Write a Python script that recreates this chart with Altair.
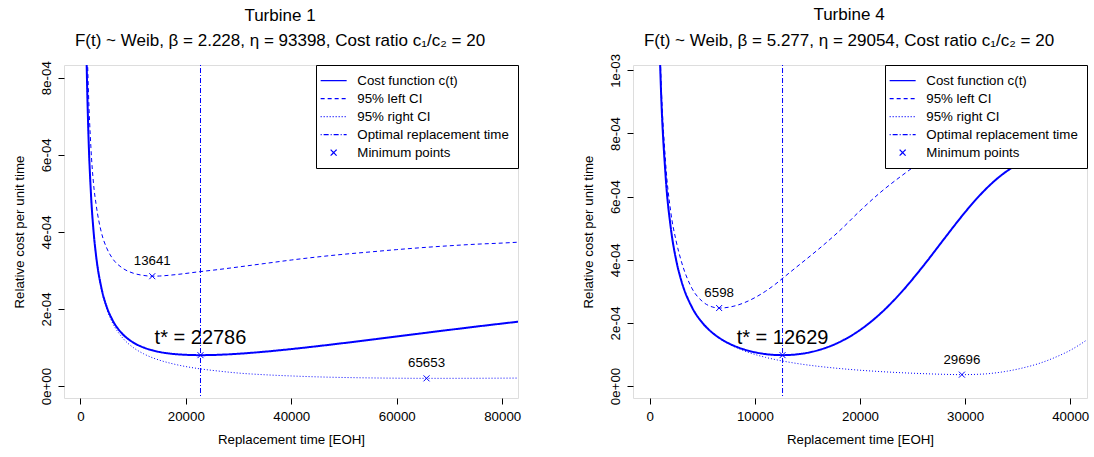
import altair as alt
import pandas as pd

FONT = "Liberation Sans"
BLUE = "#0000ff"

SERIES = ["Cost function c(t)", "95% left CI", "95% right CI",
          "Optimal replacement time", "Minimum points"]

# ---------------- Turbine 1 ----------------
title1 = ["Turbine 1", "F(t) ~ Weib, \u03b2 = 2.228, \u03b7 = 93398, Cost ratio c\u2081/c\u2082 = 20"]
t1 = [1000, 1200, 1500, 2000, 2500, 3000, 4000, 5000, 6000, 8000, 10000, 12000, 13641,
      15000, 18000, 22786, 26000, 30000, 35000, 40000, 45000, 50000, 55000, 60000,
      65653, 70000, 75000, 80000, 84000]
cost1 = [1.0008e-3, 8.343e-4, 6.679e-4, 5.018e-4, 4.024e-4, 3.364e-4, 2.543e-4, 2.057e-4,
         1.738e-4, 1.351e-4, 1.133e-4, 9.995e-5, 9.274e-5, 8.849e-5, 8.281e-5, 8.017e-5,
         8.101e-5, 8.381e-5, 8.921e-5, 9.595e-5, 1.0351e-4, 1.1159e-4, 1.2004e-4, 1.2864e-4,
         1.3837e-4, 1.4577e-4, 1.5415e-4, 1.622e-4, 1.6856e-4]
left1 = [1.10e-3, 9.4e-4, 7.8e-4, 6.2e-4, 5.25e-4, 4.7e-4, 3.98e-4, 3.58e-4, 3.33e-4,
         3.06e-4, 2.93e-4, 2.87e-4, 2.85e-4, 2.855e-4, 2.89e-4, 2.97e-4, 3.02e-4, 3.09e-4,
         3.18e-4, 3.27e-4, 3.35e-4, 3.42e-4, 3.48e-4, 3.54e-4, 3.60e-4, 3.64e-4, 3.68e-4,
         3.71e-4, 3.74e-4]
right1 = [1.0e-3, 8.33e-4, 6.67e-4, 5.0e-4, 4.0e-4, 3.33e-4, 2.5e-4, 2.0e-4, 1.668e-4,
          1.252e-4, 1.003e-4, 8.37e-5, 7.37e-5, 6.72e-5, 5.62e-5, 4.45e-5, 3.92e-5, 3.37e-5,
          2.93e-5, 2.62e-5, 2.38e-5, 2.22e-5, 2.11e-5, 2.04e-5, 2.0e-5, 2.005e-5, 2.02e-5,
          2.05e-5, 2.08e-5]
min_t1 = [13641, 22786, 65653]
min_v1 = [2.85e-4, 8.017e-5, 2.0e-5]
min_lab1 = ["13641", "t* = 22786", "65653"]
tstar1 = 22786
xdom1 = [-3100, 83000]
ydom1 = [-3.1e-5, 8.33e-4]
xticks1 = [0, 20000, 40000, 60000, 80000]
yticks1 = [0, 2e-4, 4e-4, 6e-4, 8e-4]

# ---------------- Turbine 4 ----------------
title2 = ["Turbine 4", "F(t) ~ Weib, \u03b2 = 5.277, \u03b7 = 29054, Cost ratio c\u2081/c\u2082 = 20"]
t2 = [800, 1000, 1500, 2000, 2500, 3000, 4000, 5000, 6000, 6598, 7000, 8000, 9000, 10000,
      11000, 12000, 12629, 14000, 16000, 18000, 20000, 22000, 24000, 26000, 28000, 29696,
      30000, 31000, 32000, 33000, 34000, 35000, 36000, 37000, 38000, 39000, 40000, 41000, 42000]
cost2 = [1.25e-3, 1.0e-3, 6.667e-4, 5.0e-4, 4.0e-4, 3.334e-4, 2.501e-4, 2.0035e-4, 1.6744e-4,
         1.5273e-4, 1.4435e-4, 1.2765e-4, 1.155e-4, 1.0687e-4, 1.0123e-4, 9.83e-5, 9.78e-5,
         1.0025e-4, 1.1318e-4, 1.3838e-4, 1.7742e-4, 2.3125e-4, 2.9951e-4, 3.7953e-4,
         4.659e-4, 5.383e-4, 5.5066e-4, 5.8964e-4, 6.2487e-4, 6.5565e-4, 6.8132e-4, 7.019e-4,
         7.1759e-4, 7.2888e-4, 7.3657e-4, 7.4145e-4, 7.4437e-4, 7.4597e-4, 7.4677e-4]
left2 = [1.3e-3, 1.04e-3, 7.1e-4, 5.5e-4, 4.6e-4, 3.95e-4, 3.1e-4, 2.68e-4, 2.5e-4, 2.47e-4,
         2.475e-4, 2.53e-4, 2.64e-4, 2.8e-4, 3.0e-4, 3.24e-4, 3.41e-4, 3.78e-4, 4.32e-4,
         4.9e-4, 5.55e-4, 6.15e-4, 6.67e-4, 7.15e-4, 7.6e-4, 7.9e-4, 7.95e-4, 8.1e-4, 8.25e-4,
         8.4e-4, 8.52e-4, 8.65e-4, 8.75e-4, 8.85e-4, 8.93e-4, 9.0e-4, 9.05e-4, 9.1e-4, 9.15e-4]
right2 = [1.25e-3, 1.0e-3, 6.667e-4, 5.0e-4, 4.0e-4, 3.333e-4, 2.5e-4, 2.0e-4, 1.667e-4,
          1.516e-4, 1.429e-4, 1.25e-4, 1.111e-4, 1.0e-4, 9.09e-5, 8.33e-5, 7.92e-5, 7.14e-5,
          6.25e-5, 5.56e-5, 5.0e-5, 4.56e-5, 4.2e-5, 3.92e-5, 3.7e-5, 3.6e-5, 3.605e-5,
          3.68e-5, 3.85e-5, 4.2e-5, 4.7e-5, 5.35e-5, 6.15e-5, 7.1e-5, 8.3e-5, 9.7e-5,
          1.13e-4, 1.33e-4, 1.56e-4]
min_t2 = [6598, 12629, 29696]
min_v2 = [2.47e-4, 9.78e-5, 3.6e-5]
min_lab2 = ["6598", "t* = 12629", "29696"]
tstar2 = 12629
xdom2 = [-1600, 41600]
ydom2 = [-3.8e-5, 1.017e-3]
xticks2 = [0, 10000, 20000, 30000, 40000]
yticks2 = [0, 2e-4, 4e-4, 6e-4, 8e-4, 1e-3]

LINE_SHAPE = "M-2.6,0L2.6,0"
CROSS_SHAPE = "M-0.6,-0.6L0.6,0.6M-0.6,0.6L0.6,-0.6"
DASHES = [[1, 0], [4, 3], [1, 2], [1, 2, 5, 2], [1, 0]]


def make_legend():
    return alt.Legend(title=None, orient="top-right", offset=0, fillColor="white",
                      strokeColor="black", padding=9, labelFont=FONT, labelFontSize=13.3,
                      labelColor="black", symbolSize=100, symbolStrokeWidth=1.2,
                      rowPadding=4, labelOffset=17, symbolOffset=2, labelLimit=300)


def panel(title, t, cost, left, right, min_t, min_v, min_lab, tstar, xdom, ydom, xticks,
          yticks, title_offset):
    rows = []
    for name, vals, lw in ((SERIES[0], cost, 2.0), (SERIES[1], left, 1.0), (SERIES[2], right, 1.0)):
        for tt, vv in zip(t, vals):
            rows.append({"t": tt, "v": vv, "series": name, "lw": lw})
    lines_df = pd.DataFrame(rows)
    rule_df = pd.DataFrame({"t": [tstar], "series": [SERIES[3]]})
    pts_df = pd.DataFrame({"t": min_t, "v": min_v, "series": [SERIES[4]] * 3, "lab": min_lab})

    color = alt.Color("series:N", scale=alt.Scale(domain=SERIES, range=[BLUE] * 5),
                      legend=make_legend())
    dash = alt.StrokeDash("series:N", scale=alt.Scale(domain=SERIES, range=DASHES),
                          legend=make_legend())
    shape = alt.Shape("series:N", scale=alt.Scale(domain=SERIES,
                                                  range=[LINE_SHAPE] * 4 + [CROSS_SHAPE]),
                      legend=make_legend())

    xscale = alt.Scale(domain=xdom, nice=False, zero=False)
    yscale = alt.Scale(domain=ydom, nice=False, zero=False)
    xaxis = alt.Axis(values=xticks, format="d", title="Replacement time [EOH]", grid=False,
                     domain=False, tickSize=6, tickColor="black", labelPadding=5,
                     titlePadding=10, labelFontSize=13.3, titleFontSize=13.3,
                     titleFontWeight="normal", labelFont=FONT, titleFont=FONT,
                     labelColor="black", titleColor="black", labelFlush=False)
    yaxis = alt.Axis(values=yticks, title="Relative cost per unit time", grid=False,
                     domain=False, tickSize=6, tickColor="black", labelPadding=5,
                     titlePadding=13, labelFontSize=13.3, titleFontSize=13.3,
                     titleFontWeight="normal", labelFont=FONT, titleFont=FONT,
                     labelColor="black", titleColor="black", labelAngle=270,
                     labelAlign="center", labelBaseline="bottom", labelFlush=False,
                     labelExpr="replace(replace(format(datum.value, '.0e'), 'e-', 'e-0'), 'e+', 'e+0')")

    x = alt.X("t:Q", scale=xscale, axis=xaxis)
    y = alt.Y("v:Q", scale=yscale, axis=yaxis)

    lines = alt.Chart(lines_df).mark_line(clip=True, interpolate="monotone").encode(
        x=x, y=y, color=color, strokeDash=dash,
        strokeWidth=alt.StrokeWidth("lw:Q", scale=None, legend=None),
        detail="series:N")
    rule = alt.Chart(rule_df).mark_rule(strokeWidth=1).encode(
        x=alt.X("t:Q", scale=xscale), color=color, strokeDash=dash)
    pts = alt.Chart(pts_df).mark_point(filled=False, size=100, strokeWidth=1, opacity=1).encode(
        x=alt.X("t:Q", scale=xscale), y=alt.Y("v:Q", scale=yscale), color=color, shape=shape)
    small = alt.Chart(pts_df).transform_filter("indexof(datum.lab, 't*') < 0").mark_text(
        font=FONT, fontSize=13.3, color="black", baseline="middle", dy=-15).encode(
        x=alt.X("t:Q", scale=xscale), y=alt.Y("v:Q", scale=yscale), text="lab:N")
    big = alt.Chart(pts_df).transform_filter("indexof(datum.lab, 't*') >= 0").mark_text(
        font=FONT, fontSize=20, color="black", baseline="middle", dy=-17).encode(
        x=alt.X("t:Q", scale=xscale), y=alt.Y("v:Q", scale=yscale), text="lab:N")

    return alt.layer(lines, rule, pts, small, big).properties(
        width=454, height=333,
        title=alt.TitleParams(text=title, fontSize=17, font=FONT, fontWeight="normal",
                              color="black", anchor="middle", offset=title_offset,
                              lineHeight=25.5, dx=-11, frame="group"),
    )


p1 = panel(title1, t1, cost1, left1, right1, min_t1, min_v1, min_lab1, tstar1,
           xdom1, ydom1, xticks1, yticks1, 10.5)
p2 = panel(title2, t2, cost2, left2, right2, min_t2, min_v2, min_lab2, tstar2,
           xdom2, ydom2, xticks2, yticks2, 3.5)

chart = alt.hconcat(p1, p2, spacing=115, bounds="flush").resolve_scale(
    color="independent", strokeDash="independent", shape="independent"
).resolve_legend(
    color="independent", strokeDash="independent", shape="independent"
).properties(
    padding={"left": 11, "top": 5, "right": 0, "bottom": 0}
).configure_view(
    stroke="black", strokeWidth=1
).configure(background="white")

chart.save("out.html", embed_options={"renderer": "svg", "actions": False})
